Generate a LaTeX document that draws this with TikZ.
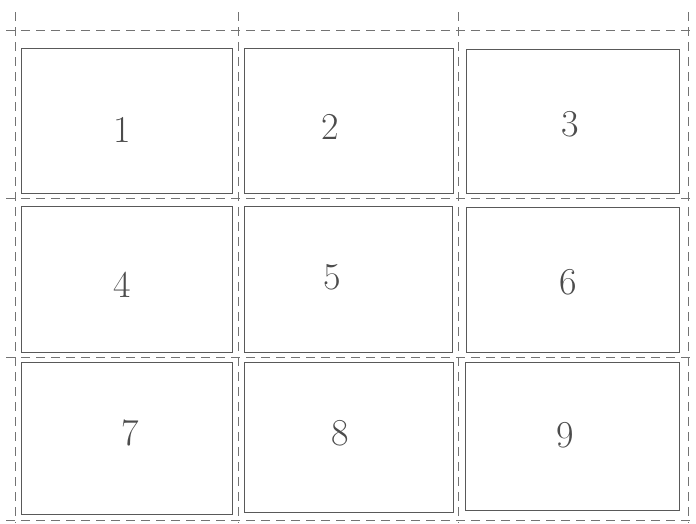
\documentclass[tikz,border=0pt]{standalone}
\begin{document}
\begin{tikzpicture}[x=1pt,y=-1pt,
  cell/.style={draw=black!65,line width=0.6pt},
  guide/.style={draw=black!55,line width=0.5pt,dash pattern=on 9pt off 6pt},
  num/.style={text=black!70,font=\fontsize{38}{38}\selectfont}]
\useasboundingbox (0,0) rectangle (696,523);
% guide lines
\coordinate (h1a) at (6,30);  \coordinate (h1b) at (696,30);
\coordinate (h2a) at (6,198); \coordinate (h2b) at (696,198);
\coordinate (h3a) at (6,357); \coordinate (h3b) at (696,357);
\coordinate (h4a) at (6,520); \coordinate (h4b) at (696,520);
\coordinate (v1a) at (15,12);  \coordinate (v1b) at (15,523);
\coordinate (v2a) at (238,12); \coordinate (v2b) at (238,523);
\coordinate (v3a) at (458,12); \coordinate (v3b) at (458,523);
\coordinate (v4a) at (688,12); \coordinate (v4b) at (688,523);
\foreach \n in {h1,h2,h3,h4,v1,v2,v3,v4} \draw[guide] (\n a) -- (\n b);
% cells
\coordinate (c1a) at (21,48);   \coordinate (c1b) at (232,193);
\coordinate (c2a) at (244,48);  \coordinate (c2b) at (453,193);
\coordinate (c3a) at (466,49);  \coordinate (c3b) at (679,193);
\coordinate (c4a) at (21,206);  \coordinate (c4b) at (232,352);
\coordinate (c5a) at (244,206); \coordinate (c5b) at (452,352);
\coordinate (c6a) at (466,207); \coordinate (c6b) at (679,352);
\coordinate (c7a) at (21,362);  \coordinate (c7b) at (232,514);
\coordinate (c8a) at (244,362); \coordinate (c8b) at (453,512);
\coordinate (c9a) at (465,362); \coordinate (c9b) at (679,510);
\foreach \i in {1,...,9} \draw[cell] (c\i a) rectangle (c\i b);
% labels
\node[num] (n1) at (122,130) {1};
\node[num] (n2) at (330,127) {2};
\node[num] (n3) at (570,124) {3};
\node[num] (n4) at (122,285) {4};
\node[num] (n5) at (332,277) {5};
\node[num] (n6) at (568,282) {6};
\node[num] (n7) at (130,433) {7};
\node[num] (n8) at (340,433) {8};
\node[num] (n9) at (565,435) {9};
\end{tikzpicture}
\end{document}
